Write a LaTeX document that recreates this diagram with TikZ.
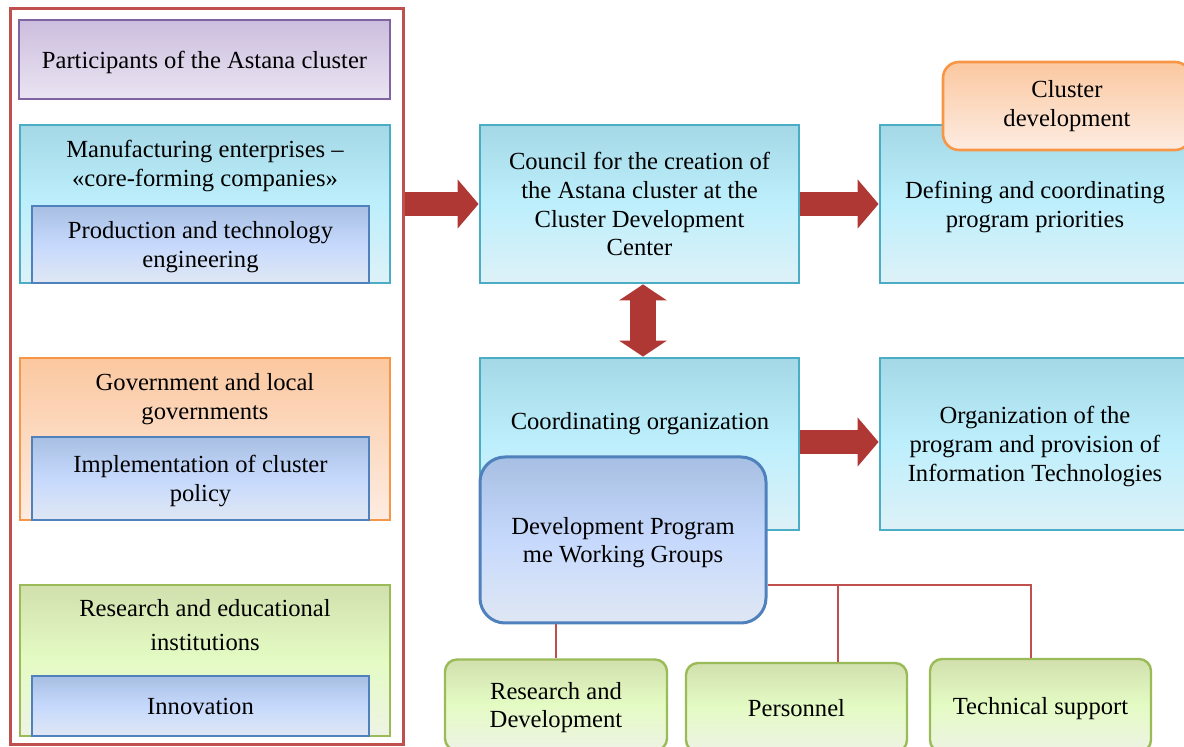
\documentclass[tikz,border=0pt]{standalone}
\usepackage{fontspec}
\setmainfont{Liberation Serif}
\usetikzlibrary{arrows.meta}

\definecolor{framered}{RGB}{192,80,77}
\definecolor{arrowred}{RGB}{176,56,52}
\definecolor{purpleline}{RGB}{128,100,162}
\definecolor{purpletop}{RGB}{204,190,222}
\definecolor{purplebot}{RGB}{234,228,242}
\definecolor{cyanline}{RGB}{75,172,198}
\definecolor{cyantop}{RGB}{165,216,230}
\definecolor{cyanmid}{RGB}{189,239,252}
\definecolor{cyanbot}{RGB}{222,241,247}
\definecolor{blueline}{RGB}{79,129,189}
\definecolor{bluetop}{RGB}{167,191,226}
\definecolor{bluemid}{RGB}{198,217,253}
\definecolor{bluebot}{RGB}{223,231,243}
\definecolor{orangeline}{RGB}{247,150,70}
\definecolor{orangetop}{RGB}{251,200,160}
\definecolor{orangebot}{RGB}{253,236,226}
\definecolor{greenline}{RGB}{155,187,89}
\definecolor{greentop}{RGB}{209,224,173}
\definecolor{greenmid}{RGB}{228,251,196}
\definecolor{greenbot}{RGB}{238,243,228}

\tikzstyle{outerframe} = [rectangle, minimum width=196.5pt, minimum height=368pt, draw=framered, line width=1.5pt]
\tikzstyle{purplebox} = [rectangle, minimum width=185.5pt, minimum height=39.5pt, text centered, text depth=0pt, draw=purpleline, line width=1.2pt, top color=purpletop, bottom color=purplebot]
\tikzstyle{cyanbox} = [rectangle, text centered, align=center, text depth=0pt, draw=cyanline, line width=1.4pt, top color=cyantop, bottom color=cyanbot, middle color=cyanmid]
\tikzstyle{bluebox} = [rectangle, minimum width=168.5pt, text centered, align=center, text depth=0pt, draw=blueline, line width=1.1pt, top color=bluetop, bottom color=bluebot, middle color=bluemid]
\tikzstyle{orangebox} = [rectangle, text centered, align=center, draw=orangeline, line width=1.3pt, top color=orangetop, bottom color=orangebot]
\tikzstyle{greenbox} = [rectangle, text centered, align=center, text depth=0pt, draw=greenline, line width=1.2pt, top color=greentop, bottom color=greenbot, middle color=greenmid]
\tikzstyle{title} = [align=center, inner sep=0pt]
\tikzstyle{fatarrow} = [draw=arrowred, line width=12pt, -{Triangle[width=24pt,length=10.5pt]}]
\tikzstyle{dblarrow} = [draw=arrowred, line width=13pt, {Triangle[width=23.5pt,length=8pt]}-{Triangle[width=23.5pt,length=8pt]}]
\tikzstyle{branch} = [draw=framered, line width=1pt]

\begin{document}
\begin{tikzpicture}[x=0.5pt, y=-0.5pt, font=\fontsize{12.3}{14.4}\selectfont]
\useasboundingbox (0,0) rectangle (1184,747);
\clip (0,0) rectangle (1184,747);

% left column: participants of the cluster
\node (frame) [outerframe] at (206.5,377) {};
\node (part) [purplebox] at (204.5,59.5) {Participants of the Astana cluster};

\node (manuf) [cyanbox, minimum width=185pt, minimum height=79pt] at (205,204) {};
\node (manuftitle) [title] at (205,166) {Manufacturing enterprises –\\«core-forming companies»};
\node (prod) [bluebox, minimum height=38.5pt] at (200.5,244.5) {Production and technology\\engineering};

\node (gov) [orangebox, minimum width=185pt, minimum height=81pt] at (205,439) {};
\node (govtitle) [title] at (205,399) {Government and local\\governments};
\node (impl) [bluebox, minimum height=41.5pt] at (200.5,478.5) {Implementation of cluster\\policy};

\node (res) [greenbox, minimum width=185pt, minimum height=75.5pt] at (205,660.5) {};
\node (restitle) [title] at (205,625) {Research and educational\\[2.5pt]institutions};
\node (innov) [bluebox, minimum height=30pt] at (200.5,706) {Innovation};

% middle column
\node (council) [cyanbox, minimum width=159.5pt, minimum height=79pt] at (639.5,204) {Council for the creation of\\the Astana cluster at the\\Cluster Development\\Center};
\node (coord) [cyanbox, minimum width=159.5pt, minimum height=86pt] at (639.5,444) {};
\node (coordtitle) [title] at (640,424) {Coordinating organization};
\node (dev) [bluebox, minimum width=143pt, minimum height=83pt, rounded corners=12.5pt, line width=1.5pt] at (623,540) {Development Program\\me Working Groups};

% right column
\node (defn) [cyanbox, minimum width=155pt, minimum height=79pt] at (1035,204) {Defining and coordinating\\program priorities};
\node (clus) [orangebox, minimum width=124pt, minimum height=44pt, rounded corners=8pt] at (1067,106) {Cluster\\development};
\node (org) [cyanbox, minimum width=155pt, minimum height=86pt] at (1035,444) {Organization of the\\program and provision of\\Information Technologies};

% working group directions
\node (rnd) [greenbox, minimum width=111pt, minimum height=45.5pt, rounded corners=6pt] at (556,705) {Research and\\Development};
\node (pers) [greenbox, minimum width=110.5pt, minimum height=44.5pt, rounded corners=6pt] at (796.5,707.5) {Personnel};
\node (tech) [greenbox, minimum width=110.5pt, minimum height=46.5pt, rounded corners=6pt] at (1040.5,705.5) {Technical support};

\coordinate (j1) at (838,585);
\coordinate (j2) at (1031,585);

\draw [fatarrow] (frame.east |- council) -- (council);
\draw [fatarrow] (council) -- (defn);
\draw [fatarrow] (coord.east |- 0,442) -- (org.west |- 0,442);
\draw [dblarrow] ([xshift=1.75pt]council.south) -- ([xshift=1.75pt]coord.north);
\draw [branch] (rnd.north) -- (rnd.north |- dev.south);
\draw [branch] (dev.east |- j1) -- (j2) -- (j2 |- tech.north);
\draw [branch] (j1) -- (j1 |- pers.north);

\end{tikzpicture}
\end{document}
